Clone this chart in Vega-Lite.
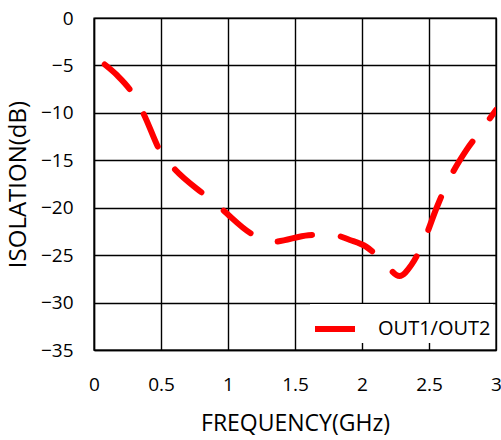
{
  "$schema": "https://vega.github.io/schema/vega-lite/v6.json",
  "width": 402,
  "height": 332,
  "autosize": {"type": "none"},
  "padding": {"left": 94, "top": 18, "right": 5, "bottom": 90},
  "background": "white",
  "config": {
    "view": {"stroke": "black", "strokeWidth": 1.4},
    "font": "Open Sans",
    "axis": {
      "labelFont": "Open Sans",
      "titleFont": "Open Sans",
      "labelColor": "black",
      "titleColor": "black",
      "labelFontSize": 19,
      "titleFontSize": 23,
      "titleFontWeight": "normal",
      "gridColor": "black",
      "gridOpacity": 1,
      "gridWidth": 1.4,
      "domainColor": "black",
      "domainWidth": 1.4,
      "tickSize": 0
    },
    "legend": {
      "labelFont": "Open Sans",
      "labelFontSize": 20,
      "labelColor": "black"
    }
  },
  "data": {
    "values": [
      {"f": 0.08, "iso": -4.9, "series": "OUT1/OUT2"},
      {"f": 0.17, "iso": -6.0, "series": "OUT1/OUT2"},
      {"f": 0.29, "iso": -8.0, "series": "OUT1/OUT2"},
      {"f": 0.37, "iso": -10.1, "series": "OUT1/OUT2"},
      {"f": 0.5, "iso": -14.2, "series": "OUT1/OUT2"},
      {"f": 0.6, "iso": -15.9, "series": "OUT1/OUT2"},
      {"f": 0.83, "iso": -18.7, "series": "OUT1/OUT2"},
      {"f": 0.95, "iso": -20.1, "series": "OUT1/OUT2"},
      {"f": 1.17, "iso": -22.7, "series": "OUT1/OUT2"},
      {"f": 1.33, "iso": -23.6, "series": "OUT1/OUT2"},
      {"f": 1.6, "iso": -22.9, "series": "OUT1/OUT2"},
      {"f": 1.76, "iso": -22.8, "series": "OUT1/OUT2"},
      {"f": 1.91, "iso": -23.4, "series": "OUT1/OUT2"},
      {"f": 2.03, "iso": -24.1, "series": "OUT1/OUT2"},
      {"f": 2.16, "iso": -25.7, "series": "OUT1/OUT2"},
      {"f": 2.28, "iso": -27.2, "series": "OUT1/OUT2"},
      {"f": 2.37, "iso": -26.0, "series": "OUT1/OUT2"},
      {"f": 2.45, "iso": -23.9, "series": "OUT1/OUT2"},
      {"f": 2.56, "iso": -19.9, "series": "OUT1/OUT2"},
      {"f": 2.63, "iso": -17.6, "series": "OUT1/OUT2"},
      {"f": 2.78, "iso": -13.9, "series": "OUT1/OUT2"},
      {"f": 2.88, "iso": -12.0, "series": "OUT1/OUT2"},
      {"f": 3.0, "iso": -9.7, "series": "OUT1/OUT2"}
    ]
  },
  "mark": {
    "type": "line",
    "interpolate": "monotone",
    "strokeWidth": 6,
    "strokeCap": "round",
    "strokeDash": [35, 29],
    "clip": true
  },
  "encoding": {
    "x": {
      "field": "f",
      "type": "quantitative",
      "scale": {"domain": [0, 3], "nice": false, "zero": false},
      "axis": {
        "title": "FREQUENCY(GHz)",
        "values": [0, 0.5, 1, 1.5, 2, 2.5, 3],
        "format": "~g",
        "labelPadding": 25,
        "titlePadding": 18,
        "labelFlush": false
      }
    },
    "y": {
      "field": "iso",
      "type": "quantitative",
      "scale": {"domain": [-35, 0], "nice": false, "zero": false},
      "axis": {
        "title": "ISOLATION(dB)",
        "titleFontSize": 24,
        "values": [-35, -30, -25, -20, -15, -10, -5, 0],
        "format": "~g",
        "labelPadding": 21,
        "titlePadding": 10,
        "labelFlush": false
      }
    },
    "color": {
      "field": "series",
      "type": "nominal",
      "scale": {"range": ["#ff0000"]},
      "legend": {
        "title": null,
        "orient": "none",
        "legendX": 216,
        "legendY": 286,
        "fillColor": "white",
        "padding": 2,
        "symbolType": "stroke",
        "symbolSize": 1600,
        "symbolStrokeWidth": 6,
        "labelOffset": 20
      }
    }
  }
}
